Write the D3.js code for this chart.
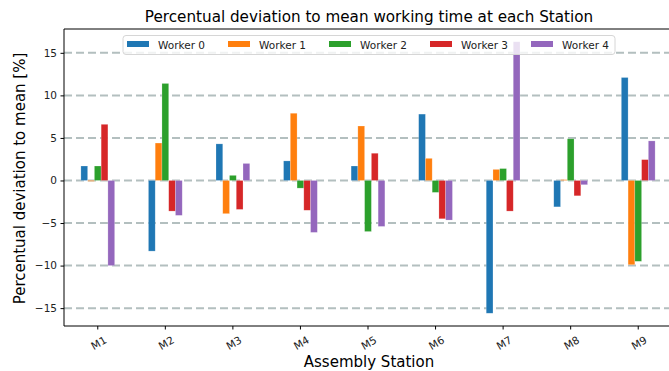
<!DOCTYPE html>
<html>
<head>
<meta charset="utf-8">
<script src="https://cdn.jsdelivr.net/npm/d3@7"></script>
<style>
  body { margin: 0; background: #fff; }
  svg { display: block; font-family: "DejaVu Sans", sans-serif; }
</style>
</head>
<body>
<svg id="chart"></svg>
<script>
// stations on the x axis
var stations = ["M1", "M2", "M3", "M4", "M5", "M6", "M7", "M8", "M9"];
var workers = ["Worker 0", "Worker 1", "Worker 2", "Worker 3", "Worker 4"];
var colors = ["#1f77b4", "#ff7f0e", "#2ca02c", "#d62728", "#9467bd"];
// deviation in % per worker, one value per station
var worker0 = [1.7, -8.3, 4.3, 2.3, 1.7, 7.8, -15.6, -3.1, 12.1];
var worker1 = [-0.1, 4.4, -3.9, 7.9, 6.4, 2.6, 1.3, 0.1, -9.9];
var worker2 = [1.7, 11.4, 0.6, -0.9, -6.0, -1.4, 1.4, 4.9, -9.5];
var worker3 = [6.6, -3.6, -3.4, -3.5, 3.2, -4.5, -3.6, -1.8, 2.45];
var worker4 = [-10.0, -4.1, 2.0, -6.1, -5.4, -4.65, 16.3, -0.5, 4.65];
var yTicks = [-15, -10, -5, 0, 5, 10, 15];

var series = [worker0, worker1, worker2, worker3, worker4];

var W = 669, H = 371;
var margin = { top: 29, right: -3, bottom: 45, left: 64 };
var innerW = W - margin.left - margin.right,
    innerH = H - margin.top - margin.bottom;

var svg = d3.select("#chart").attr("width", W).attr("height", H);
var g = svg.append("g").attr("transform", "translate(" + margin.left + "," + margin.top + ")");

var x0 = d3.scaleBand().domain(stations).range([0, innerW]).padding(0);
var x1 = d3.scaleBand().domain(d3.range(workers.length))
    .range([x0.bandwidth() * 0.25, x0.bandwidth() * 0.75]);
var y = d3.scaleLinear().domain([-17.1, 17.8]).range([innerH, 0]);

// dashed horizontal grid
g.selectAll("line.grid")
    .data(yTicks)
    .enter()
    .append("line")
    .attr("class", "grid")
    .attr("x1", 0)
    .attr("x2", innerW)
    .attr("y1", function(d) { return y(d); })
    .attr("y2", function(d) { return y(d); })
    .style("stroke", "#b3bfbf")
    .style("stroke-width", 2)
    .style("stroke-dasharray", "8,4");

// bars
var groups = g.selectAll("g.station")
    .data(stations)
    .enter()
    .append("g")
    .attr("transform", function(d) { return "translate(" + x0(d) + ",0)"; });

groups.selectAll("rect")
    .data(function(d, i) {
        return series.map(function(s, j) { return { j: j, v: s[i] }; });
    })
    .enter()
    .append("rect")
    .attr("x", function(d) { return x1(d.j); })
    .attr("width", x1.bandwidth())
    .attr("y", function(d) { return y(Math.max(0, d.v)); })
    .attr("height", function(d) { return Math.abs(y(d.v) - y(0)); })
    .style("fill", function(d) { return colors[d.j]; })
    .style("stroke", "#fff")
    .style("stroke-opacity", 0.35)
    .style("stroke-width", 0.6);

// axes
var yAxis = d3.axisLeft(y).tickValues(yTicks).tickSize(3.5).tickPadding(3.5)
    .tickFormat(function(d) { return d < 0 ? "\u2212" + Math.abs(d) : d; });
var yG = g.append("g").call(yAxis);
yG.select(".domain").attr("d", "M0," + innerH + "V0");

var xAxis = d3.axisBottom(x0).tickSize(3.5);
var xG = g.append("g").attr("transform", "translate(0," + innerH + ")").call(xAxis);
xG.select(".domain").attr("d", "M0,0H" + innerW);
xG.selectAll(".tick text")
    .attr("text-anchor", "middle")
    .attr("x", 0)
    .attr("y", 0)
    .attr("dy", "0.35em")
    .attr("transform", "translate(1,17) rotate(-30)");

svg.selectAll(".tick text").style("font-size", "10.5px").style("fill", "#222")
    .style("font-family", "DejaVu Sans");
svg.selectAll(".domain, .tick line").style("stroke", "#000").style("stroke-width", 1);

// top spine
g.append("line").attr("x1", 0).attr("x2", innerW).attr("y1", 0).attr("y2", 0)
    .style("stroke", "#000");

// title and labels
svg.append("text")
    .attr("x", margin.left + innerW / 2 + 1)
    .attr("y", 22)
    .attr("text-anchor", "middle")
    .style("font-size", "15.2px")
    .text("Percentual deviation to mean working time at each Station");

svg.append("text")
    .attr("x", margin.left + innerW / 2 + 1)
    .attr("y", 367)
    .attr("text-anchor", "middle")
    .style("font-size", "15px")
    .text("Assembly Station");

svg.append("text")
    .attr("transform", "translate(25," + (margin.top + innerH / 2 + 1) + ") rotate(-90)")
    .attr("text-anchor", "middle")
    .style("font-size", "15px")
    .text("Percentual deviation to mean [%]");

// legend
var legend = svg.append("g").attr("transform", "translate(123,35.5)");
legend.append("rect")
    .attr("width", 492)
    .attr("height", 19)
    .attr("rx", 3)
    .style("fill", "#fff")
    .style("fill-opacity", 0.8)
    .style("stroke", "#d6d6d6");

var items = legend.selectAll("g.item")
    .data(workers)
    .enter()
    .append("g")
    .attr("transform", function(d, i) { return "translate(" + (4 + i * 101) + ",0)"; });
items.append("rect")
    .attr("x", 0).attr("y", 5.5)
    .attr("width", 22).attr("height", 6)
    .style("fill", function(d, i) { return colors[i]; });
items.append("text")
    .attr("x", 31).attr("y", 13)
    .style("font-size", "10.5px")
    .style("fill", "#222")
    .text(function(d) { return d; });
</script>
</body>
</html>
